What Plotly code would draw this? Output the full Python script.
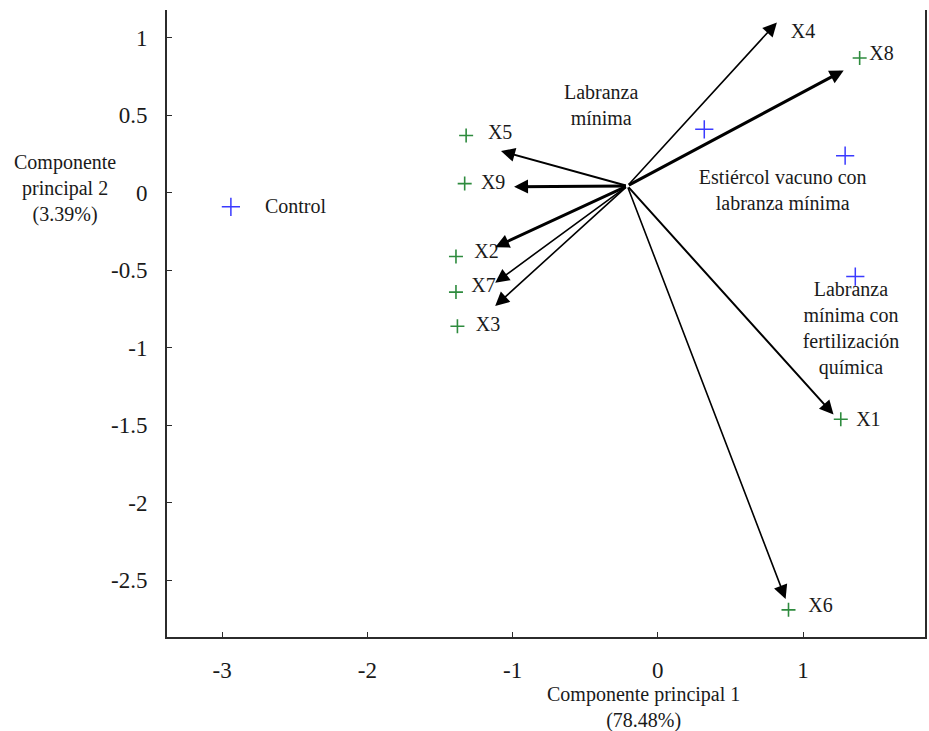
import plotly.graph_objects as go

# Treatment scores (blue crosses)
treat_names = ["Control", "Labranza mínima", "Estiércol vacuno con labranza mínima",
               "Labranza mínima con fertilización química"]
treat_pc1 = [-2.94, 0.32, 1.29, 1.36]
treat_pc2 = [-0.09, 0.41, 0.24, -0.54]
treat_labels = ["Control", "Labranza<br>mínima", "Estiércol vacuno con<br>labranza mínima",
                "Labranza<br>mínima con<br>fertilización<br>química"]
treat_label_pc1 = [-2.495, -0.39, 0.86, 1.33]
treat_label_pc2 = [-0.097, 0.555, 0.006, -0.884]

# Variable markers (green crosses)
var_names = ["X1", "X2", "X3", "X5", "X6", "X7", "X8", "X9"]
var_pc1 = [1.26, -1.39, -1.38, -1.32, 0.90, -1.39, 1.39, -1.33]
var_pc2 = [-1.46, -0.41, -0.86, 0.37, -2.69, -0.64, 0.87, 0.06]

# Loading vectors drawn from a common origin
origin_pc1, origin_pc2 = -0.21, 0.045
vec_names = ["X1", "X2", "X3", "X4", "X5", "X6", "X7", "X8", "X9"]
vec_pc1 = [1.21, -1.12, -1.12, 0.82, -1.08, 0.88, -1.12, 1.28, -0.99]
vec_pc2 = [-1.43, -0.35, -0.73, 1.10, 0.27, -2.62, -0.58, 0.79, 0.04]
vec_width = [2.0, 3.0, 1.6, 1.6, 2.0, 1.6, 1.6, 3.0, 3.0]

# Vector name label positions
lab_pc1 = [1.45, -1.18, -1.17, 1.00, -1.086, 1.12, -1.20, 1.54, -1.134]
lab_pc2 = [-1.47, -0.387, -0.858, 1.03, 0.38, -2.67, -0.606, 0.89, 0.058]

x_ticks = [-3, -2, -1, 0, 1]
y_ticks = [1, 0.5, 0, -0.5, -1, -1.5, -2, -2.5]

serif = "Liberation Serif, Times New Roman, serif"
ink = "#1a1a1a"

fig = go.Figure()

fig.add_trace(go.Scatter(
    x=var_pc1, y=var_pc2, mode="markers", name="Variables",
    marker=dict(symbol="cross-thin", size=10, color="#2e8b3e",
                line=dict(width=1.6, color="#2e8b3e")),
    hoverinfo="skip"))

fig.add_trace(go.Scatter(
    x=treat_pc1, y=treat_pc2, mode="markers", name="Tratamientos",
    text=treat_names,
    marker=dict(symbol="cross-thin", size=13, color="#3a3aff",
                line=dict(width=1.5, color="#3a3aff")),
    hoverinfo="text"))

fig.add_trace(go.Scatter(
    x=lab_pc1, y=lab_pc2, mode="text", text=vec_names,
    textfont=dict(family=serif, size=20, color=ink),
    hoverinfo="skip"))

fig.add_trace(go.Scatter(
    x=treat_label_pc1, y=treat_label_pc2, mode="text", text=treat_labels,
    textfont=dict(family=serif, size=20, color=ink),
    hoverinfo="skip"))

annotations = []
for x1, y1, w in zip(vec_pc1, vec_pc2, vec_width):
    annotations.append(dict(
        x=x1, y=y1, ax=origin_pc1, ay=origin_pc2,
        xref="x", yref="y", axref="x", ayref="y",
        text="", showarrow=True, arrowhead=2,
        arrowwidth=w, arrowsize=2.8 / w, arrowcolor="#000000"))

# Axis titles as free text
annotations.append(dict(
    text="Componente<br>principal 2<br>(3.39%)", x=-0.134, y=0.716,
    xref="paper", yref="paper", showarrow=False,
    xanchor="center", yanchor="middle", align="center",
    font=dict(family=serif, size=20, color=ink)))
annotations.append(dict(
    text="Componente principal 1<br>(78.48%)", x=0.629, y=-0.113,
    xref="paper", yref="paper", showarrow=False,
    xanchor="center", yanchor="middle", align="center",
    font=dict(family=serif, size=20, color=ink)))

fig.update_layout(
    width=929, height=731,
    margin=dict(l=167, r=2, t=10, b=94),
    paper_bgcolor="white", plot_bgcolor="white",
    showlegend=False,
    font=dict(family=serif, size=23, color=ink),
    xaxis=dict(
        range=[-3.38, 1.84], tickvals=x_ticks, ticktext=[str(v) for v in x_ticks],
        showgrid=False, zeroline=False, showline=True, linecolor="#2b2b2b", linewidth=2,
        ticks="inside", ticklen=5, tickcolor="#2b2b2b", mirror=False,
        ticklabelstandoff=11,
        tickfont=dict(family=serif, size=23, color=ink)),
    yaxis=dict(
        range=[-2.865, 1.18], tickvals=y_ticks, ticktext=[str(v) for v in y_ticks],
        showgrid=False, zeroline=False, showline=True, linecolor="#2b2b2b", linewidth=2,
        ticks="inside", ticklen=5, tickcolor="#2b2b2b", mirror=True,
        ticklabelstandoff=13,
        tickfont=dict(family=serif, size=23, color=ink)),
    annotations=annotations,
)

fig.write_html("out.html")
